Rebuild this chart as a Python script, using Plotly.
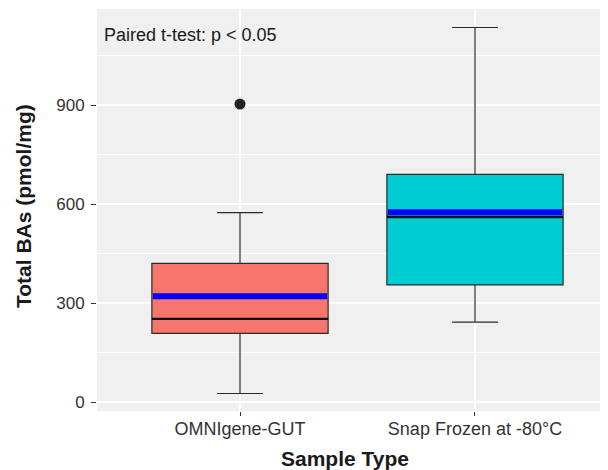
import plotly.graph_objects as go

categories = ["OMNIgene-GUT", "Snap Frozen at -80°C"]
lower_whisker = [26, 242]
q1 = [208, 355]
median = [252, 561]
q3 = [420, 690]
upper_whisker = [574, 1135]
mean = [321, 575]
outlier_cat = [0]
outlier_val = [903]
fill_colors = ["#F8766D", "#00CDD1"]
y_ticks = [0, 300, 600, 900]

BOX_W = 0.75
fig = go.Figure()

for i, cat in enumerate(categories):
    fig.add_trace(go.Box(
        x=[i], q1=[q1[i]], median=[median[i]], q3=[q3[i]],
        lowerfence=[lower_whisker[i]], upperfence=[upper_whisker[i]],
        width=BOX_W, whiskerwidth=0.26,
        fillcolor=fill_colors[i], line=dict(color="#2b2b2b", width=1.2),
        boxpoints=False, showlegend=False, hoverinfo="skip",
    ))

for i in range(len(categories)):
    fig.add_trace(go.Scatter(
        x=[i - BOX_W / 2, i + BOX_W / 2], y=[median[i], median[i]],
        mode="lines", line=dict(color="#111111", width=2.4),
        showlegend=False, hoverinfo="skip",
    ))
    fig.add_trace(go.Scatter(
        x=[i - BOX_W / 2 + 0.004, i + BOX_W / 2 - 0.004], y=[mean[i], mean[i]],
        mode="lines", line=dict(color="#0000FF", width=6),
        showlegend=False, hoverinfo="skip",
    ))

fig.add_trace(go.Scatter(
    x=outlier_cat, y=outlier_val, mode="markers",
    marker=dict(color="#222222", size=11, line=dict(width=0)),
    showlegend=False, hoverinfo="skip",
))

# page body has an 8px default margin: figure is laid out so the panel
# lands at x 97..608, y 9..411 in the window
fig.update_layout(
    width=600, height=462,
    margin=dict(l=89, r=0, t=1, b=59),
    paper_bgcolor="white", plot_bgcolor="#F0F0F0",
    font=dict(family="Liberation Sans, Arial, sans-serif", color="#333333"),
    annotations=[
        dict(text="Paired t-test: p < 0.05", xref="paper", yref="paper",
             x=0.010, y=(411 - 35) / 402, xanchor="left", yanchor="middle",
             showarrow=False, font=dict(size=18, color="#1a1a1a")),
        dict(text="<b>Sample Type</b>", xref="paper", yref="paper",
             x=(345 - 97) / 511, y=-(458 - 411) / 402, xanchor="center", yanchor="middle",
             showarrow=False, font=dict(size=21, color="#1a1a1a")),
        dict(text="<b>Total BAs (pmol/mg)</b>", xref="paper", yref="paper",
             x=-(97 - 23) / 511, y=(411 - 206) / 402, xanchor="center", yanchor="middle",
             textangle=-90, showarrow=False, font=dict(size=21, color="#1a1a1a")),
    ],
)

fig.update_xaxes(
    range=[-0.6085, 1.566], tickvals=[0, 1], ticktext=categories,
    showgrid=True, gridcolor="white", gridwidth=1.5, zeroline=False,
    ticks="outside", ticklen=4, tickcolor="#333333", tickwidth=1,
    tickfont=dict(size=18, color="#333333"), ticklabelstandoff=-3, showline=False,
)
fig.update_yaxes(
    range=[-27, 1191], tickvals=y_ticks,
    showgrid=True, gridcolor="white", gridwidth=1.5, zeroline=False,
    minor=dict(tickvals=[150, 450, 750, 1050], showgrid=True, gridcolor="white", gridwidth=0.7, ticks=""),
    ticks="outside", ticklen=5, tickcolor="#333333", tickwidth=1,
    tickfont=dict(size=17, color="#333333"), ticklabelstandoff=3, showline=False,
)

fig.write_html("out.html")
